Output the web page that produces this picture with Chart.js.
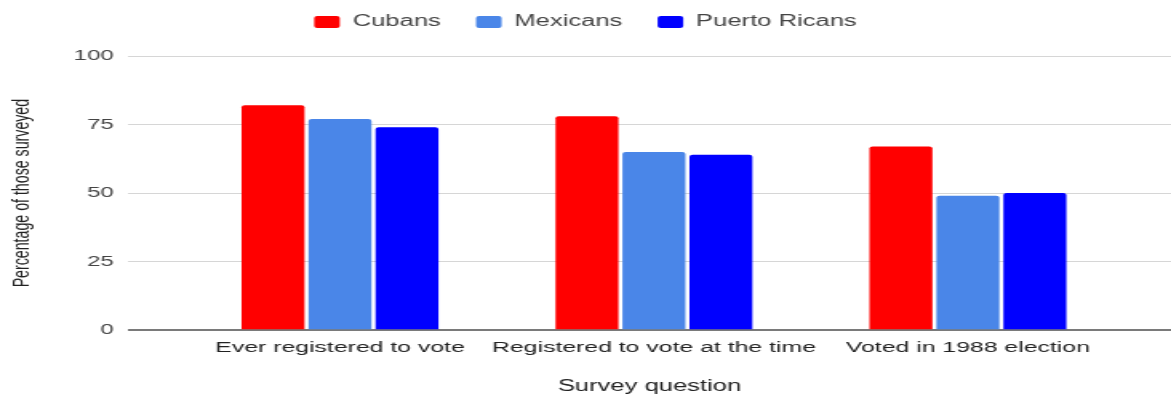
<!DOCTYPE html>
<html>
<head>
<meta charset="utf-8">
<script src="https://cdn.jsdelivr.net/npm/chart.js@4.4.1/dist/chart.umd.min.js"></script>
<style>
  html, body { margin: 0; padding: 0; background: #fff; }
</style>
</head>
<body>
<!-- the reference is a horizontally stretched screenshot, so draw narrow and stretch -->
<canvas id="chart" width="732" height="397" style="display:block;width:1171px;height:397px"></canvas>
<script>
const categories = ['Ever registered to vote', 'Registered to vote at the time', 'Voted in 1988 election'];
const seriesNames = ['Cubans', 'Mexicans', 'Puerto Ricans'];
const cubans = [82, 78, 67];
const mexicans = [77, 65, 49];
const puertoRicans = [74, 64, 50];
const yTicks = [0, 25, 50, 75, 100];

const seriesValues = [cubans, mexicans, puertoRicans];
const seriesColors = ['#ff0000', '#4a86e8', '#0000ff'];
const font = 'Liberation Sans, Arial, sans-serif';

const datasets = seriesNames.map((name, s) => ({
    label: name,
    data: seriesValues[s].map((v, i) => ({ x: i + 1, y: v })),
    backgroundColor: seriesColors[s],
    borderRadius: 2,
    borderSkipped: 'bottom',
    categoryPercentage: 0.64,
    barPercentage: 0.94
}));

// extra room under the legend
const legendSpace = {
    id: 'legendSpace',
    beforeInit(chart) {
        const fit = chart.legend.fit;
        chart.legend.fit = function () {
            fit.bind(chart.legend)();
            this.height += 16;
        };
    }
};

new Chart(document.getElementById('chart'), {
    type: 'bar',
    data: { datasets },
    plugins: [legendSpace],
    options: {
        responsive: false,
        animation: false,
        layout: { padding: { top: -8, left: 0, right: 0, bottom: 0 } },
        plugins: {
            legend: {
                position: 'top',
                labels: {
                    color: '#444',
                    font: { family: font, size: 16 },
                    boxWidth: 16,
                    boxHeight: 12,
                    padding: 22,
                    useBorderRadius: true,
                    borderRadius: 2
                }
            },
            tooltip: { enabled: false }
        },
        scales: {
            x: {
                type: 'linear',
                offset: false,
                min: 0.325,
                max: 3.647,
                afterBuildTicks: scale => {
                    scale.ticks = categories.map((c, i) => ({ value: i + 1 }));
                },
                grid: { display: false, drawTicks: false },
                border: { display: false },
                ticks: {
                    autoSkip: false,
                    maxRotation: 0,
                    padding: 8,
                    color: '#222',
                    font: { family: font, size: 15.5 },
                    callback: value => categories[value - 1] || ''
                },
                title: {
                    display: true,
                    text: 'Survey question',
                    color: '#222',
                    font: { family: font, size: 16 },
                    padding: { top: 12, bottom: 1 }
                }
            },
            y: {
                min: 0,
                max: 100,
                afterBuildTicks: scale => {
                    scale.ticks = yTicks.map(v => ({ value: v }));
                },
                grid: {
                    drawTicks: false,
                    color: ctx => ctx.tick && ctx.tick.value === 0 ? '#7a7a7a' : '#d6d6d6',
                    lineWidth: ctx => ctx.tick && ctx.tick.value === 0 ? 2 : 1
                },
                border: { display: false },
                ticks: {
                    padding: 9,
                    color: '#444',
                    font: { family: font, size: 15 }
                },
                title: {
                    display: true,
                    text: 'Percentage of those surveyed',
                    color: '#222',
                    font: { family: font, size: 14.2 },
                    padding: { top: 6, bottom: 14 }
                }
            }
        }
    }
});
</script>
</body>
</html>
